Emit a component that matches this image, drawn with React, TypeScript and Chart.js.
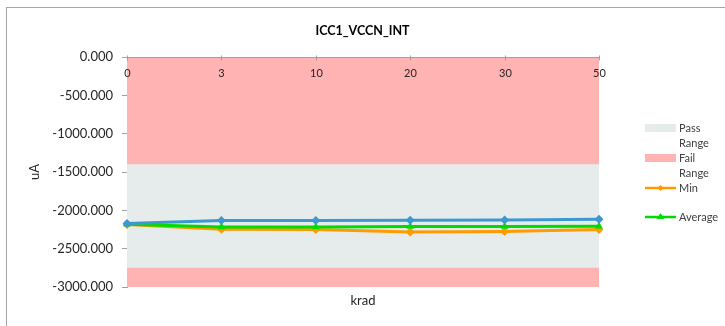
import React, { useEffect, useRef } from "react";
import { Chart, registerables } from "chart.js";

Chart.register(...registerables);

const chartTitle = "ICC1_VCCN_INT";
const categories = ["0", "3", "10", "20", "30", "50"];
const maxValues = [-2172, -2133, -2133, -2129, -2125, -2116];
const avgValues = [-2180, -2216, -2216, -2212, -2212, -2207];
const minValues = [-2185, -2246, -2250, -2281, -2277, -2250];
const passRangeHigh = [-1400, -1400, -1400, -1400, -1400, -1400];
const passRangeLow = -2750;
const failRangeLow = [-3000, -3000, -3000, -3000, -3000, -3000];
const yTicks = [0, -500, -1000, -1500, -2000, -2500, -3000];

const FONT = "Lato, 'Open Sans', sans-serif";
const BLUE = "#3C98CF";
const ORANGE = "#FF9A00";
const GREEN = "#00DC00";
const PINK = "#FFB3B3";
const PASS = "#E6EBEB";

const decorPlugin = {
  id: "decor",
  afterDraw(chart: any) {
    const { ctx, chartArea, scales } = chart;
    const x = scales.x;
    ctx.save();
    // outer border
    ctx.strokeStyle = "#A6A6A6";
    ctx.lineWidth = 1;
    ctx.strokeRect(6.5, 7.5, 740, 340);
    // title
    ctx.fillStyle = "#000000";
    ctx.font = `bold 12.5px ${FONT}`;
    ctx.textAlign = "center";
    ctx.textBaseline = "middle";
    ctx.fillText(chartTitle, 362.5, 31);
    // top axis line at 0 and category labels
    const yTop = Math.round(scales.y.getPixelForValue(0)) + 0.5;
    ctx.strokeStyle = "#A0A0A0";
    ctx.beginPath();
    ctx.moveTo(chartArea.left, yTop);
    ctx.lineTo(chartArea.right, yTop);
    ctx.stroke();
    ctx.fillStyle = "#262626";
    ctx.font = `11px ${FONT}`;
    categories.forEach((c, i) => {
      const px = Math.round(x.getPixelForValue(i)) + 0.5;
      ctx.beginPath();
      ctx.moveTo(px, yTop - 2);
      ctx.lineTo(px, yTop + 3);
      ctx.stroke();
      ctx.fillText(c, px, yTop + 16);
    });
    // legend
    const lx = 645;
    const lw = 31;
    const tx = 679;
    ctx.font = `11px ${FONT}`;
    ctx.textAlign = "left";
    const ds = chart.data.datasets;
    ctx.fillStyle = PASS;
    ctx.fillRect(lx, 124, lw, 8);
    ctx.fillStyle = "#404040";
    const passWords = ds[3].label.split(" ");
    ctx.fillText(passWords[0], tx, 128);
    ctx.fillText(passWords[1], tx, 143);
    ctx.fillStyle = PINK;
    ctx.fillRect(lx, 154, lw, 8);
    ctx.fillStyle = "#404040";
    const failWords = ds[4].label.split(" ");
    ctx.fillText(failWords[0], tx, 158);
    ctx.fillText(failWords[1], tx, 173);
    // Min
    ctx.strokeStyle = ORANGE;
    ctx.lineWidth = 2.5;
    ctx.beginPath();
    ctx.moveTo(lx, 188);
    ctx.lineTo(lx + lw, 188);
    ctx.stroke();
    ctx.fillStyle = ORANGE;
    ctx.beginPath();
    ctx.moveTo(lx + 15.5, 185);
    ctx.lineTo(lx + 18.5, 188);
    ctx.lineTo(lx + 15.5, 191);
    ctx.lineTo(lx + 12.5, 188);
    ctx.closePath();
    ctx.fill();
    ctx.fillStyle = "#404040";
    ctx.fillText(ds[2].label, tx, 188);
    // Average
    ctx.strokeStyle = GREEN;
    ctx.beginPath();
    ctx.moveTo(lx, 217);
    ctx.lineTo(lx + lw, 217);
    ctx.stroke();
    ctx.fillStyle = GREEN;
    ctx.beginPath();
    ctx.moveTo(lx + 15.5, 213);
    ctx.lineTo(lx + 19.5, 219);
    ctx.lineTo(lx + 11.5, 219);
    ctx.closePath();
    ctx.fill();
    ctx.fillStyle = "#404040";
    ctx.fillText(ds[1].label, tx, 217);
    ctx.restore();
  },
};

export default function App() {
  const ref = useRef<HTMLCanvasElement>(null);
  useEffect(() => {
    if (!ref.current) return;
    const chart = new Chart(ref.current, {
      type: "line",
      data: {
        labels: categories,
        datasets: [
          {
            label: "Max",
            data: maxValues,
            borderColor: BLUE,
            backgroundColor: BLUE,
            borderWidth: 3,
            pointStyle: "rectRot",
            pointRadius: 4.5,
            pointBorderWidth: 0,
            fill: false,
            order: 0,
          },
          {
            label: "Average",
            data: avgValues,
            borderColor: GREEN,
            backgroundColor: GREEN,
            borderWidth: 3,
            pointStyle: "triangle",
            pointRadius: 4.5,
            pointBorderWidth: 0,
            fill: false,
            order: 1,
          },
          {
            label: "Min",
            data: minValues,
            borderColor: ORANGE,
            backgroundColor: ORANGE,
            borderWidth: 3,
            pointStyle: "rectRot",
            pointRadius: 4.5,
            pointBorderWidth: 0,
            fill: false,
            order: 2,
          },
          {
            label: "Pass Range",
            data: passRangeHigh,
            borderWidth: 0,
            borderColor: "rgba(0,0,0,0)",
            backgroundColor: PASS,
            pointRadius: 0,
            fill: { value: passRangeLow },
            order: 3,
          },
          {
            label: "Fail Range",
            data: failRangeLow,
            borderWidth: 0,
            borderColor: "rgba(0,0,0,0)",
            backgroundColor: PINK,
            pointRadius: 0,
            fill: "origin",
            order: 4,
          },
        ],
      },
      options: {
        animation: false,
        responsive: false,
        maintainAspectRatio: false,
        layout: { padding: { left: 0, right: 126, top: 57, bottom: 0 } },
        plugins: {
          legend: { display: false },
          tooltip: { enabled: false },
          title: { display: false },
        },
        scales: {
          x: {
            type: "category",
            offset: false,
            grid: { display: false },
            border: { display: false },
            ticks: { display: false },
            title: {
              display: true,
              text: "krad",
              color: "#262626",
              font: { family: FONT, size: 13 },
              padding: { top: 0, bottom: 17 },
            },
            afterFit: (s: any) => {
              s.height = 39;
            },
          },
          y: {
            min: -3000,
            max: 0,
            afterBuildTicks: (s: any) => {
              s.ticks = yTicks.map((v) => ({ value: v }));
            },
            ticks: {
              color: "#262626",
              font: { family: FONT, size: 13 },
              padding: 9,
              callback: (v: any) => Number(v).toFixed(3),
            },
            grid: {
              drawOnChartArea: false,
              drawTicks: true,
              tickLength: 5,
              color: "#A0A0A0",
            },
            border: { display: true, color: "#A0A0A0", width: 1 },
            title: {
              display: true,
              text: "uA",
              color: "#262626",
              font: { family: FONT, size: 13 },
              padding: { top: 27, bottom: 0 },
            },
            afterFit: (s: any) => {
              s.width = 127;
            },
          },
        },
      },
      plugins: [decorPlugin],
    });
    return () => chart.destroy();
  }, []);
  return (
    <div style={{ position: "fixed", left: 0, top: 0, width: 725, height: 326, background: "#fff" }}>
      <canvas ref={ref} width={725} height={326} />
    </div>
  );
}
